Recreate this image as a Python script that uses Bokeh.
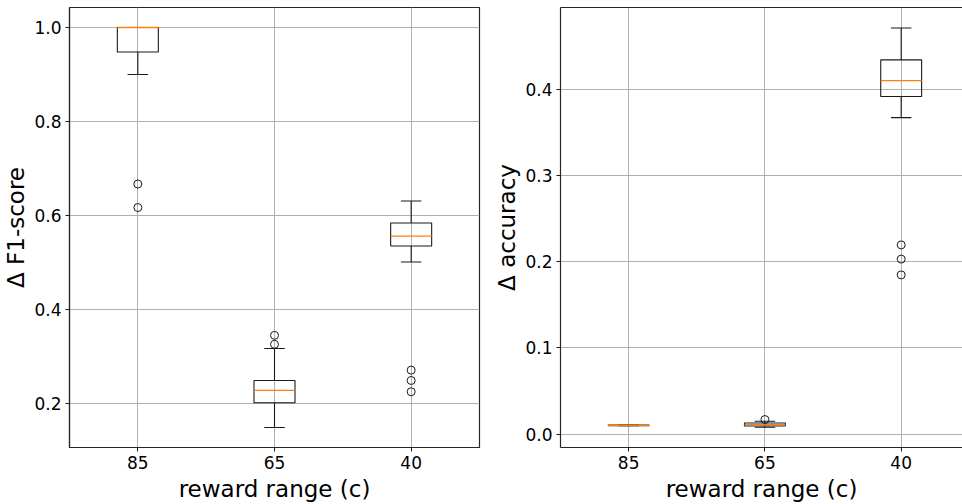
from bokeh.plotting import figure
from bokeh.layouts import row
from bokeh.models import FixedTicker, LinearAxis, Range1d
from bokeh.embed import file_html
from bokeh.resources import INLINE

# ---- data ----
categories = ["85", "65", "40"]

f1_lower = [0.900, 0.149, 0.501]
f1_q1 = [0.948, 0.2015, 0.535]
f1_median = [1.000, 0.228, 0.556]
f1_q3 = [1.000, 0.249, 0.584]
f1_upper = [1.000, 0.317, 0.631]
f1_outliers = [[0.667, 0.617], [0.345, 0.326], [0.271, 0.249, 0.225]]

acc_lower = [0.0100, 0.0081, 0.367]
acc_q1 = [0.0100, 0.0095, 0.3915]
acc_median = [0.0104, 0.0112, 0.410]
acc_q3 = [0.0106, 0.0130, 0.434]
acc_upper = [0.0106, 0.0150, 0.471]
acc_outliers = [[], [0.0170], [0.2195, 0.203, 0.1847]]

f1_ticks = [0.2, 0.4, 0.6, 0.8, 1.0]
acc_ticks = [0.0, 0.1, 0.2, 0.3, 0.4]

FONT = "DejaVu Sans"
BOX_W = 0.3
CAP_W = 0.15
ORANGE = "#ff7f0e"
LINE = "#1a1a1a"


def boxplot(p, lower, q1, med, q3, upper, outliers):
    xs = [i + 1 for i in range(len(categories))]
    cl = [x - CAP_W / 2 for x in xs]
    cr = [x + CAP_W / 2 for x in xs]
    bl = [x - BOX_W / 2 for x in xs]
    br = [x + BOX_W / 2 for x in xs]
    # whiskers
    p.segment(x0=xs, x1=xs, y0=q1, y1=lower, line_color=LINE, line_width=1.1)
    p.segment(x0=xs, x1=xs, y0=q3, y1=upper, line_color=LINE, line_width=1.1)
    # caps
    p.segment(x0=cl, x1=cr, y0=lower, y1=lower, line_color=LINE, line_width=1.1)
    p.segment(x0=cl, x1=cr, y0=upper, y1=upper, line_color=LINE, line_width=1.1)
    # boxes
    p.quad(left=bl, right=br, bottom=q1, top=q3, fill_color=None,
           line_color=LINE, line_width=1.1)
    # medians
    p.segment(x0=bl, x1=br, y0=med, y1=med, line_color=ORANGE, line_width=1.3)
    # fliers
    ox, oy = [], []
    for x, vals in zip(xs, outliers):
        for v in vals:
            ox.append(x)
            oy.append(v)
    p.scatter(x=ox, y=oy, marker="circle", size=8, fill_color=None,
              line_color=LINE, line_width=1.0)


def style(p, ylabel, yticks):
    xt = [i + 1 for i in range(len(categories))]
    p.xaxis.ticker = FixedTicker(ticks=xt)
    p.xaxis.major_label_overrides = {i + 1: c for i, c in enumerate(categories)}
    p.yaxis.ticker = FixedTicker(ticks=yticks)
    p.yaxis.major_label_overrides = {t: f"{t:.1f}" for t in yticks}
    p.xaxis.axis_label = "reward range (c)"
    p.yaxis.axis_label = ylabel
    for ax in (p.xaxis[0], p.yaxis[0]):
        ax.axis_label_text_font = FONT
        ax.axis_label_text_font_size = "23px"
        ax.axis_label_text_font_style = "normal"
        ax.axis_label_text_color = "black"
        ax.major_label_text_font = FONT
        ax.major_label_text_font_size = "17px"
        ax.major_label_text_color = "black"
        ax.minor_tick_line_color = None
        ax.major_tick_in = 0
        ax.major_tick_out = 4
        ax.major_tick_line_color = LINE
        ax.axis_line_color = "#262626"
        ax.axis_line_width = 1.2
        ax.major_label_standoff = 4
        ax.axis_label_standoff = 4
    p.yaxis.axis_label_standoff = 2
    p.yaxis.major_label_orientation = "horizontal"
    p.xgrid.grid_line_color = "#b0b0b0"
    p.ygrid.grid_line_color = "#b0b0b0"
    p.xgrid.grid_line_width = 1
    p.ygrid.grid_line_width = 1
    p.xgrid.ticker = FixedTicker(ticks=xt)
    p.ygrid.ticker = FixedTicker(ticks=yticks)
    p.background_fill_color = "white"
    p.border_fill_color = "white"


p1 = figure(width=482, height=504, output_backend="svg", toolbar_location=None,
            x_range=Range1d(0.5, 3.5), y_range=Range1d(0.1064, 1.0426),
            min_border_left=69, min_border_right=3, min_border_top=7,
            min_border_bottom=57)
p1.outline_line_color = "#262626"
p1.outline_line_width = 1.2
style(p1, "Δ F1-score", f1_ticks)
boxplot(p1, f1_lower, f1_q1, f1_median, f1_q3, f1_upper, f1_outliers)

p2 = figure(width=480, height=504, output_backend="svg", toolbar_location=None,
            x_range=Range1d(0.5, 3.45), y_range=Range1d(-0.0154, 0.4947),
            min_border_left=78, min_border_right=0, min_border_top=7,
            min_border_bottom=57)
p2.outline_line_color = None
style(p2, "Δ accuracy", acc_ticks)
top_axis = LinearAxis(ticker=FixedTicker(ticks=[]), major_label_text_font_size="0px",
                      major_tick_out=0, major_tick_in=0, minor_tick_out=0, minor_tick_in=0,
                      axis_line_color="#262626", axis_line_width=1.2)
p2.add_layout(top_axis, "above")
boxplot(p2, acc_lower, acc_q1, acc_median, acc_q3, acc_upper, acc_outliers)

layout = row(p1, p2, spacing=0)
open("out.html", "w").write(file_html(layout, INLINE))
